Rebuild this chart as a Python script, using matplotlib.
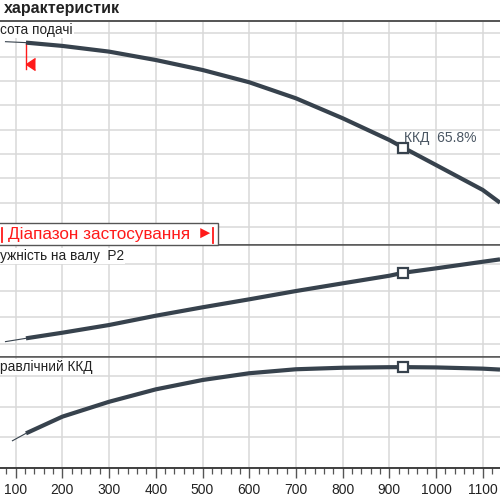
import matplotlib
matplotlib.use('Agg')
import matplotlib.pyplot as plt
from matplotlib.patches import Rectangle
from matplotlib.lines import Line2D
from matplotlib.ticker import MultipleLocator

plt.rcParams['font.family'] = ['Liberation Sans', 'DejaVu Sans']

# ---- data ----
q_head = [77, 122, 200, 300, 400, 500, 600, 700, 800, 900, 930, 1000, 1100, 1137]
h_head = [17.25, 17.17, 16.90, 16.43, 15.74, 14.92, 13.91, 12.59, 10.95, 9.16,
          8.53, 7.10, 5.05, 4.00]

q_pow = [77, 122, 200, 300, 400, 500, 600, 700, 800, 900, 930, 1000, 1100, 1137]
p_pow = [1.086, 1.213, 1.423, 1.712, 2.060, 2.375, 2.674, 2.985, 3.273, 3.558,
         3.670, 3.835, 4.082, 4.172]

q_eff = [92, 122, 200, 300, 400, 500, 600, 700, 800, 900, 930, 1000, 1100, 1137]
e_eff = [17.6, 22.6, 33.5, 43.2, 51.3, 57.4, 61.8, 64.4, 65.4, 65.75, 65.8,
         65.6, 64.8, 64.2]

q_min = 122          # start of application range
q_bep = 930          # best efficiency point
h_bep = 8.53
p_bep = 3.670
eff_bep = 65.8
h_flag = 15.0        # lower end of the red range flag
x_ticks = list(range(100, 1200, 100))

title_text = "характеристик"
head_label = "сота подачі"
power_label = "ужність на валу  P2"
eff_label = "равлічний ККД"
range_label = "Діапазон застосування"
range_arrow = "►"
bep_label = "ККД  65.8%"

# ---- styling ----
W = H = 500
CURVE = '#37424d'
GRID = '#d8d8d8'
SPINE = '#555555'
RED = '#ff1a1a'
XLIM = (66.4, 1137.0)

def fx(px):
    return px / W

def fy(py):
    return (H - py) / H

fig = plt.figure(figsize=(5, 5), dpi=100)

def make_ax(top, bottom, ylim, ystep):
    ax = fig.add_axes([0, fy(bottom), 1, (bottom - top) / H])
    ax.set_xlim(*XLIM)
    ax.set_ylim(*ylim)
    ax.xaxis.set_major_locator(MultipleLocator(100))
    ax.yaxis.set_major_locator(MultipleLocator(ystep))
    ax.grid(True, color=GRID, lw=1.1)
    ax.set_axisbelow(True)
    for s in ('left', 'right'):
        ax.spines[s].set_visible(False)
    for s in ('top', 'bottom'):
        ax.spines[s].set_color(SPINE)
        ax.spines[s].set_linewidth(1.1)
    ax.tick_params(left=False, labelleft=False, bottom=False, labelbottom=False)
    return ax

ax1 = make_ax(21, 245, (0.519, 18.95), 2)
ax2 = make_ax(245, 357, (0.513, 4.71), 1)
ax3 = make_ax(357, 468, (0.0, 72.4), 20)

# x axis on bottom panel
ax3.set_xticks(x_ticks)
ax3.xaxis.set_minor_locator(MultipleLocator(20))
ax3.tick_params(axis='x', which='major', bottom=True, labelbottom=True,
                length=7, width=1.0, color=SPINE, pad=4, labelsize=10,
                labelcolor='#222222')
ax3.tick_params(axis='x', which='minor', bottom=True, length=4.5,
                width=0.9, color=SPINE)
ax3.spines['bottom'].set_linewidth(1.3)
ax3.spines['bottom'].set_color('#333333')

def curve(ax, q, v):
    ax.plot(q[:2], v[:2], color=CURVE, lw=0.8, solid_capstyle='butt', zorder=3)
    ax.plot(q[1:], v[1:], color=CURVE, lw=3.0, solid_capstyle='butt',
            solid_joinstyle='round', zorder=3)

curve(ax1, q_head, h_head)
curve(ax2, q_pow, p_pow)
curve(ax3, q_eff, e_eff)

mk = dict(marker='s', ms=6.5, mfc='white', mec=CURVE, mew=1.6, zorder=4, ls='none')
ax1.plot([q_bep], [h_bep], **mk)
ax2.plot([q_bep], [p_bep], **mk)
ax3.plot([q_bep], [eff_bep], **mk)

# red range flag at start of application range
ax1.plot([q_min, q_min], [h_head[1], h_flag], color=RED, lw=1.0, zorder=2)
ax1.plot([q_min], [(h_flag + 15.82) / 2], marker=4, ms=9, color=RED,
         ls='none', zorder=2)

# BEP label
ax1.annotate(bep_label, (q_bep, h_bep), xytext=(1, 10), textcoords='offset pixels',
             fontsize=10, color='#4a5663', ha='left', va='center', zorder=5)

# panel labels
lab = dict(fontsize=9.8, color='#222222', ha='left', va='center',
           bbox=dict(boxstyle='square,pad=0.1', fc='white', ec='none'))
fig.text(fx(0), fy(30), head_label, **lab)
fig.text(fx(0), fy(256), power_label, **lab)
fig.text(fx(0), fy(367), eff_label, **lab)

# title and top rule
fig.text(fx(4), fy(9), title_text, fontsize=11.5, fontweight='bold',
         color='#222222', ha='left', va='center')
fig.add_artist(Line2D([0, 1], [fy(21), fy(21)], color=SPINE, lw=1.3,
                      transform=fig.transFigure))

# application range box
fig.add_artist(Rectangle((fx(-5), fy(245)), fx(223), (245 - 223) / H,
                         transform=fig.transFigure, fc='white', ec=SPINE,
                         lw=1.0, zorder=5))
fig.text(fx(8), fy(234.5), range_label, fontsize=12.3, color=RED,
         ha='left', va='center', zorder=6)
fig.text(fx(197), fy(234), range_arrow, fontsize=12, color=RED,
         ha='left', va='center', zorder=6)
fig.add_artist(Line2D([fx(1.5), fx(1.5)], [fy(228), fy(242)], color=RED,
                      lw=1.3, transform=fig.transFigure, zorder=6))
fig.add_artist(Line2D([fx(213), fx(213)], [fy(228), fy(243)], color=RED,
                      lw=1.3, transform=fig.transFigure, zorder=6))

fig.savefig('out.png', dpi=100)
